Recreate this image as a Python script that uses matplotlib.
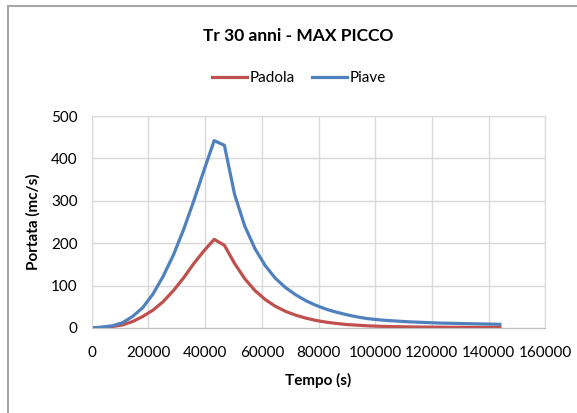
import numpy as np
import matplotlib.pyplot as plt
from matplotlib.lines import Line2D

# tempo in secondi, passo orario (0 - 40 h)
tempo = [i * 3600 for i in range(41)]

padola = [0, 1, 3, 7, 15, 27, 42, 62, 88, 118, 152, 182, 209,
          195, 152, 116, 88, 67, 51, 39, 30, 23, 17.5, 13.5, 10.5, 8,
          6.5, 5, 4, 3.3, 2.8, 2.4, 2.1, 1.9, 1.7, 1.5, 1.4, 1.3, 1.2, 1.1, 1.0]

piave = [0, 2, 5, 12, 27, 48, 80, 122, 172, 232, 300, 372, 442,
         431, 315, 240, 187, 147, 117, 95, 78, 64, 53, 44, 37, 31,
         26, 22, 19.5, 17.5, 16, 14.5, 13.5, 12.5, 11.5, 11, 10.5, 10, 9.5, 9, 8.5]

xticks = [0, 20000, 40000, 60000, 80000, 100000, 120000, 140000, 160000]
yticks = [0, 100, 200, 300, 400, 500]

plt.rcParams['font.family'] = ['Lato', 'DejaVu Sans']

fig = plt.figure(figsize=(5.77, 4.13), dpi=100)
ax = fig.add_axes([0.159, 0.206, 0.786, 0.513])

ax.plot(tempo, padola, color='#c0504d', lw=2.3, label='Padola')
ax.plot(tempo, piave, color='#4f81bd', lw=2.3, label='Piave')

ax.set_xlim(0, 160000)
ax.set_ylim(0, 500)
ax.set_xticks(xticks)
ax.set_yticks(yticks)
ax.tick_params(length=0, labelsize=11)
ax.tick_params(axis='x', pad=13)
ax.tick_params(axis='y', pad=10)
ax.grid(True, color='#d9d9d9', lw=1)
ax.set_axisbelow(True)
for s in ax.spines.values():
    s.set_color('#d9d9d9')
ax.spines['bottom'].set_color('#bfbfbf')

ax.set_xlabel('Tempo (s)', fontsize=11, fontweight='bold', labelpad=9)
ax.set_ylabel('Portata (mc/s)', fontsize=11, fontweight='bold', labelpad=8)

fig.text(0.516, 0.913, 'Tr 30 anni - MAX PICCO', ha='center', va='center',
         fontsize=12.5, fontweight='bold')
fig.legend(loc='center', bbox_to_anchor=(0.518, 0.81), ncol=2, frameon=False,
           fontsize=11, handlelength=2.3, handletextpad=0.2, columnspacing=1.1)

# bordo del grafico
fig.add_artist(Line2D([0.014, 1.0], [0.985, 0.985], color='#a6a6a6', lw=1.5))
fig.add_artist(Line2D([0.014, 0.014], [0.0, 0.985], color='#a6a6a6', lw=1.5))

fig.savefig('out.png', dpi=100)
